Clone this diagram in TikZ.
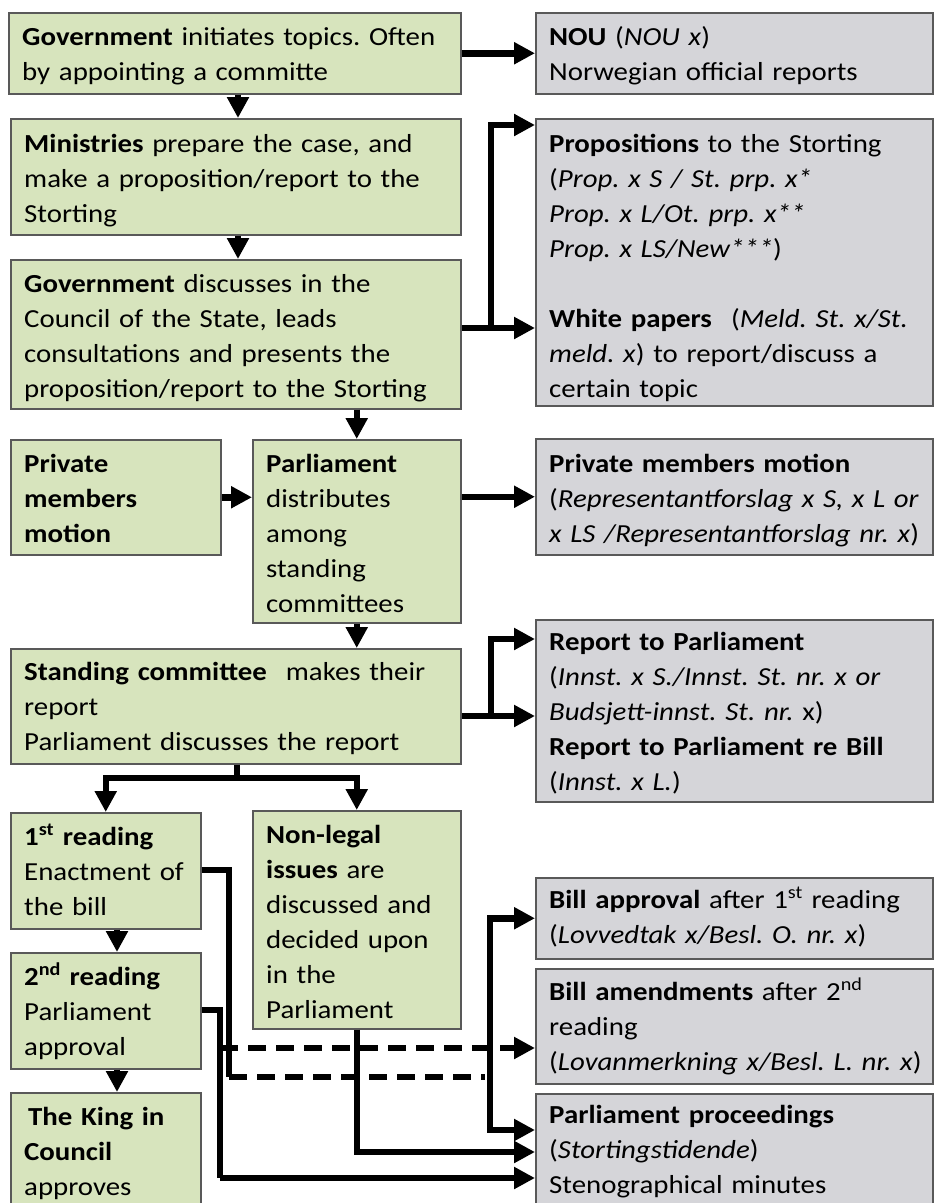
\documentclass[tikz,border=0pt]{standalone}
\usepackage{fontspec}
\setmainfont{Carlito}[FakeStretch=1.11]
\usetikzlibrary{arrows.meta}
\definecolor{gfill}{HTML}{D7E4BD}
\definecolor{gyfill}{HTML}{D5D5D9}
\definecolor{bord}{HTML}{595959}
\frenchspacing
\begin{document}
\begin{tikzpicture}[x=1pt,y=-1pt,
  gbox/.style={draw=bord, line width=1.5pt, fill=gfill, inner sep=0pt, anchor=north west},
  ybox/.style={draw=bord, line width=1.5pt, fill=gyfill, inner sep=0pt, anchor=north west},
  txt/.style={anchor=base west, inner sep=0pt, align=left, font=\fontsize{26}{35}\selectfont\frenchspacing},
  conn/.style={line width=6.5pt},
  arr/.style={conn, -{Triangle[length=21pt,width=21pt]}},
  darr/.style={arr, dash pattern=on 18pt off 10pt},
  dline/.style={conn, dash pattern=on 18pt off 10pt},
]
\useasboundingbox (0,0) rectangle (936,1203);
% green boxes
\node[gbox, minimum width=452pt, minimum height=81pt] (b1) at (8,12) {};
\node[gbox, minimum width=450pt, minimum height=116pt] (b2) at (10,118) {};
\node[gbox, minimum width=450pt, minimum height=149pt] (b3) at (10,259) {};
\node[gbox, minimum width=210pt, minimum height=115pt] (priv) at (10,439) {};
\node[gbox, minimum width=208pt, minimum height=183pt] (pd) at (252,439) {};
\node[gbox, minimum width=450pt, minimum height=115pt] (sc) at (10,648) {};
\node[gbox, minimum width=190pt, minimum height=116pt] (r1) at (10,812) {};
\node[gbox, minimum width=208pt, minimum height=218pt] (nl) at (252,810) {};
\node[gbox, minimum width=190pt, minimum height=116pt] (r2) at (10,952) {};
\node[gbox, minimum width=190pt, minimum height=123pt] (king) at (10,1092) {};
% grey boxes
\node[ybox, minimum width=397pt, minimum height=81pt] (nou) at (535,12) {};
\node[ybox, minimum width=397pt, minimum height=287pt] (props) at (535,118) {};
\node[ybox, minimum width=397pt, minimum height=116pt] (pmm) at (535,438) {};
\node[ybox, minimum width=397pt, minimum height=182pt] (rep) at (535,619) {};
\node[ybox, minimum width=397pt, minimum height=81pt] (ba) at (535,877) {};
\node[ybox, minimum width=397pt, minimum height=115pt] (bam) at (535,968) {};
\node[ybox, minimum width=397pt, minimum height=122pt] (pp) at (535,1093) {};
% texts
\node[txt, text width=436pt] (t1) at (22,45) {\textbf{Government} initiates topics. Often\\by appointing a committe};
\node[txt, text width=434pt] (t2) at (24,152) {\textbf{Ministries} prepare the case, and\\make a proposition/report to the\\Storting};
\node[txt, text width=434pt] (t3) at (24,292) {\textbf{Government} discusses in the\\Council of the State, leads\\consultations and presents the\\proposition/report to the Storting};
\node[txt, text width=195pt] (tpriv) at (24,472) {\textbf{Private}\\\textbf{members}\\\textbf{motion}};
\node[txt, text width=192pt] (tpd) at (266,472) {\textbf{Parliament}\\distributes\\among\\standing\\committees};
\node[txt, text width=434pt] (tsc) at (24,680) {\textbf{Standing committee}\hspace{0.4em} makes their\\report\\Parliament discusses the report};
\node[txt, text width=184pt] (tr1) at (24,845) {\textbf{1\textsuperscript{st} reading}\\Enactment of\\the bill};
\node[txt, text width=192pt] (tnl) at (266,843) {\textbf{Non-legal}\\\textbf{issues} are\\discussed and\\decided upon\\in the\\Parliament};
\node[txt, text width=184pt] (tr2) at (24,985) {\textbf{2\textsuperscript{nd} reading}\\Parliament\\approval};
\node[txt, text width=184pt] (tking) at (24,1125) {\hspace{4pt}\textbf{The King in}\\\textbf{Council}\\approves};
\node[txt, text width=386pt] (tnou) at (549,45) {\textbf{NOU} (\textit{NOU x})\\Norwegian official reports};
\node[txt, text width=386pt] (tprops) at (549,152) {\textbf{Propositions} to the Storting\\(\textit{Prop. x S / St. prp. x*}\\\textit{Prop. x L/Ot. prp. x**}\\\textit{Prop. x LS/New***})\\\mbox{}\\\textbf{White papers}\hspace{0.4em} (\textit{Meld. St. x/St.}\\\textit{meld. x}) to report/discuss a\\certain topic};
\node[txt, text width=386pt] (tpmm) at (549,472) {\textbf{Private members motion}\\(\textit{Representantforslag x S, x L or}\\\textit{x LS /Representantforslag nr. x})};
\node[txt, text width=386pt] (trep) at (549,650) {\textbf{Report to Parliament}\\(\textit{Innst. x S./Innst. St. nr. x or}\\\textit{Budsjett-innst. St. nr.} x)\\\textbf{Report to Parliament re Bill}\\(\textit{Innst. x L.})};
\node[txt, text width=386pt] (tba) at (549,908) {\textbf{Bill approval} after 1\textsuperscript{st} reading\\(\textit{Lovvedtak x/Besl. O. nr. x})};
\node[txt, text width=386pt] (tbam) at (549,1000) {\textbf{Bill amendments} after 2\textsuperscript{nd}\\reading\\(\textit{Lovanmerkning x/Besl. L. nr. x})};
\node[txt, text width=386pt] (tpp) at (549,1123) {\textbf{Parliament proceedings}\\(\textit{Stortingstidende})\\Stenographical minutes};
% junctions
\coordinate (j1) at (491,328);
\coordinate (j2) at (491,716);
\coordinate (j3) at (237,778);
\coordinate (j4) at (490,1077);
\coordinate (k1) at (229,870);
\coordinate (k2) at (220,1010);
\coordinate (k3) at (220,1048);
% connectors
\draw[arr] (b1.east |- nou.west) -- (nou.west);
\draw[arr] (b1.south -| 238,0) -- (b2.north -| 238,0);
\draw[arr] (b2.south -| 238,0) -- (b3.north -| 238,0);
\draw[arr] (b3.south -| pd.north) -- (pd.north);
\draw[conn] (b3.east |- j1) -- (j1);
\draw[arr] (j1) -- (props.west |- j1);
\draw[arr] (j1) |- (props.west |- 0,125);
\draw[arr] (priv.east) -- (priv.east -| pd.west);
\draw[arr] (pd.east |- pmm.west) -- (pmm.west);
\draw[arr] (pd.south) -- (pd.south |- sc.north);
\draw[conn] (sc.east |- j2) -- (j2);
\draw[arr] (j2) -- (rep.west |- j2);
\draw[arr] (j2) |- (rep.west |- 0,639);
\draw[conn] (sc.south -| j3) -- (j3);
\draw[arr] (j3) -| (r1.north);
\draw[arr] (j3) -| (nl.north);
\draw[arr] (r1.south -| 117,0) -- (r2.north -| 117,0);
\draw[arr] (r2.south -| 117,0) -- (king.north -| 117,0);
\draw[conn] (r1.east |- k1) -- (k1) -- (k1 |- j4);
\draw[dline] (k1 |- j4) -- ([xshift=-5pt]j4);
\draw[arr] (j4) |- (ba.west);
\draw[arr] (j4) |- (pp.west |- 0,1130);
\draw[conn] (r2.east |- k2) -- (k2) -- (k2 |- 0,1178);
\draw[arr] (k2 |- 0,1178) -- (pp.west |- 0,1178);
\draw[darr] (k3) -- (bam.west |- k3);
\draw[arr] (nl.south) |- (pp.west |- 0,1152);
\end{tikzpicture}
\end{document}
